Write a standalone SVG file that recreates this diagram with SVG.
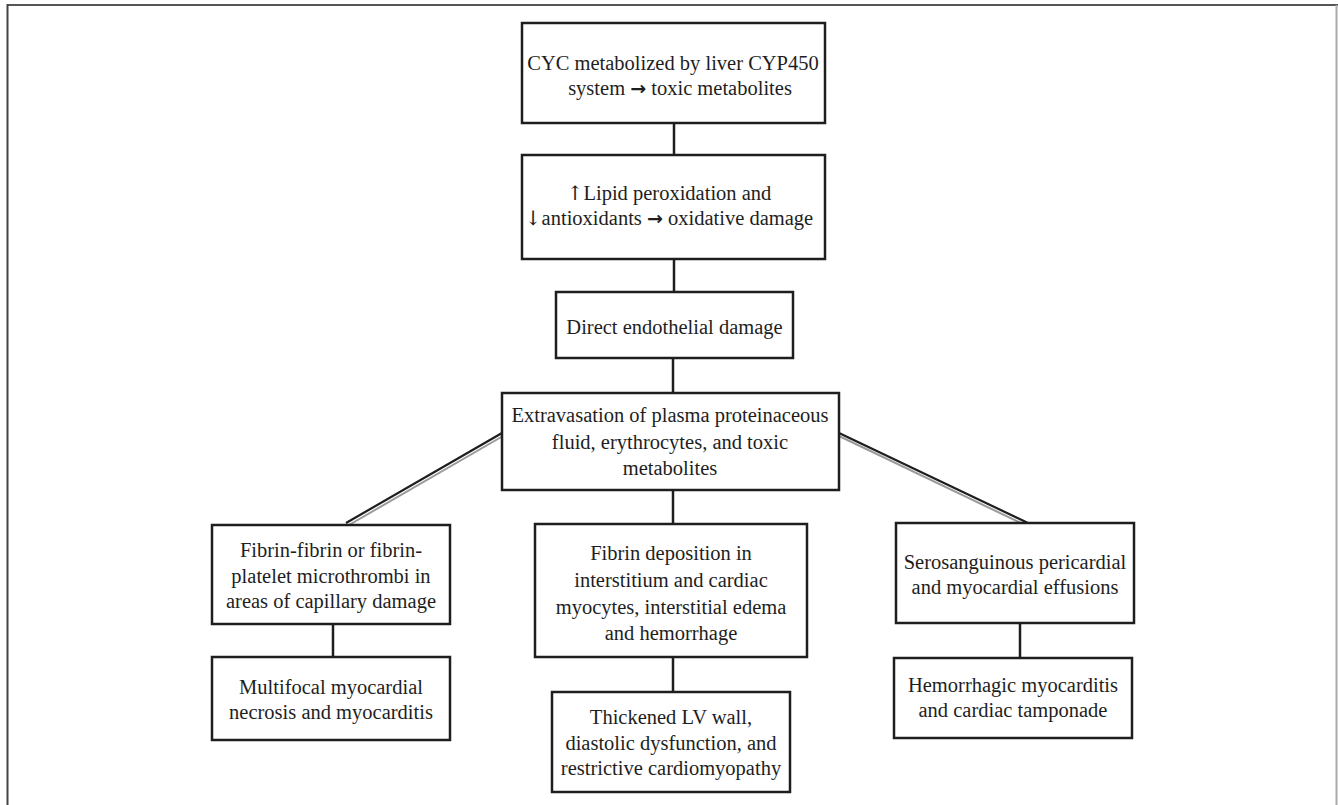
<svg xmlns="http://www.w3.org/2000/svg" width="1338" height="805" viewBox="0 0 1338 805">
<style>
.box{fill:#fff;stroke:#1e1e1e;stroke-width:2.5}
text{font-family:'Liberation Serif',Tinos,'Times New Roman',serif;font-size:20.5px;fill:#1e1e1e;text-anchor:middle}
.c{stroke:#1e1e1e;stroke-width:2.5;fill:none}
.d{stroke:#1e1e1e;stroke-width:2.2;fill:none}
.ds{stroke:#9a9a9a;stroke-width:2;fill:none}
.ar{font-family:'DejaVu Sans',sans-serif;font-weight:bold;font-size:19px}
.ud{font-family:'DejaVu Serif',serif;font-size:20px}
</style>
<rect x="0" y="0" width="1338" height="805" fill="#fff"/>
<g id="frame">
<line x1="7" y1="5" x2="1338" y2="5" stroke="#555" stroke-width="2"/>
<line x1="7.5" y1="4" x2="7.5" y2="805" stroke="#444" stroke-width="2"/>
<line x1="1336.5" y1="5" x2="1336.5" y2="805" stroke="#aaa" stroke-width="2"/>
</g>
<g id="connectors">
<line class="c" x1="674" y1="124" x2="674" y2="155"/>
<line class="c" x1="674" y1="259" x2="674" y2="292"/>
<line class="c" x1="673" y1="358" x2="673" y2="393"/>
<line class="c" x1="673" y1="490" x2="673" y2="524"/>
<line class="c" x1="673" y1="657" x2="673" y2="692"/>
<line class="c" x1="333" y1="624" x2="333" y2="657"/>
<line class="c" x1="1020" y1="623" x2="1020" y2="658"/>
<line class="ds" x1="503" y1="436" x2="349" y2="525"/>
<line class="d" x1="502" y1="433" x2="346" y2="523"/>
<line class="ds" x1="839" y1="436" x2="1025" y2="525"/>
<line class="d" x1="839" y1="433" x2="1028" y2="523"/>
</g>
<g id="n1"><rect class="box" x="522" y="23" width="303" height="100"/>
<text x="673" y="70">CYC metabolized by liver CYP450</text>
<text x="680" y="95">system <tspan class="ar">→</tspan> toxic metabolites</text></g>
<g id="n2"><rect class="box" x="522" y="155" width="303" height="104"/>
<text x="669" y="200"><tspan class="ud">↑</tspan>Lipid peroxidation and</text>
<text x="669" y="225"><tspan class="ud">↓</tspan>antioxidants <tspan class="ar">→</tspan> oxidative damage</text></g>
<g id="n3"><rect class="box" x="556" y="292" width="237" height="66"/>
<text x="674.5" y="334">Direct endothelial damage</text></g>
<g id="n4"><rect class="box" x="502" y="393" width="337" height="97"/>
<text x="670" y="422">Extravasation of plasma proteinaceous</text>
<text x="670" y="449">fluid, erythrocytes, and toxic</text>
<text x="670" y="475">metabolites</text></g>
<g id="n5"><rect class="box" x="212" y="525" width="238" height="99"/>
<text x="331" y="557">Fibrin-fibrin or fibrin-</text>
<text x="331" y="583">platelet microthrombi in</text>
<text x="331" y="608">areas of capillary damage</text></g>
<g id="n6"><rect class="box" x="212" y="657" width="238" height="83"/>
<text x="331" y="694">Multifocal myocardial</text>
<text x="331" y="719">necrosis and myocarditis</text></g>
<g id="n7"><rect class="box" x="535" y="524" width="272" height="133"/>
<text x="671" y="560">Fibrin deposition in</text>
<text x="671" y="587">interstitium and cardiac</text>
<text x="671" y="614">myocytes, interstitial edema</text>
<text x="671" y="640">and hemorrhage</text></g>
<g id="n8"><rect class="box" x="552" y="692" width="238" height="100"/>
<text x="671" y="724">Thickened LV wall,</text>
<text x="671" y="750">diastolic dysfunction, and</text>
<text x="671" y="775">restrictive cardiomyopathy</text></g>
<g id="n9"><rect class="box" x="896" y="523" width="238" height="100"/>
<text x="1015" y="569">Serosanguinous pericardial</text>
<text x="1015" y="594">and myocardial effusions</text></g>
<g id="n10"><rect class="box" x="894" y="658" width="238" height="80"/>
<text x="1013" y="692">Hemorrhagic myocarditis</text>
<text x="1013" y="717">and cardiac tamponade</text></g>
</svg>
